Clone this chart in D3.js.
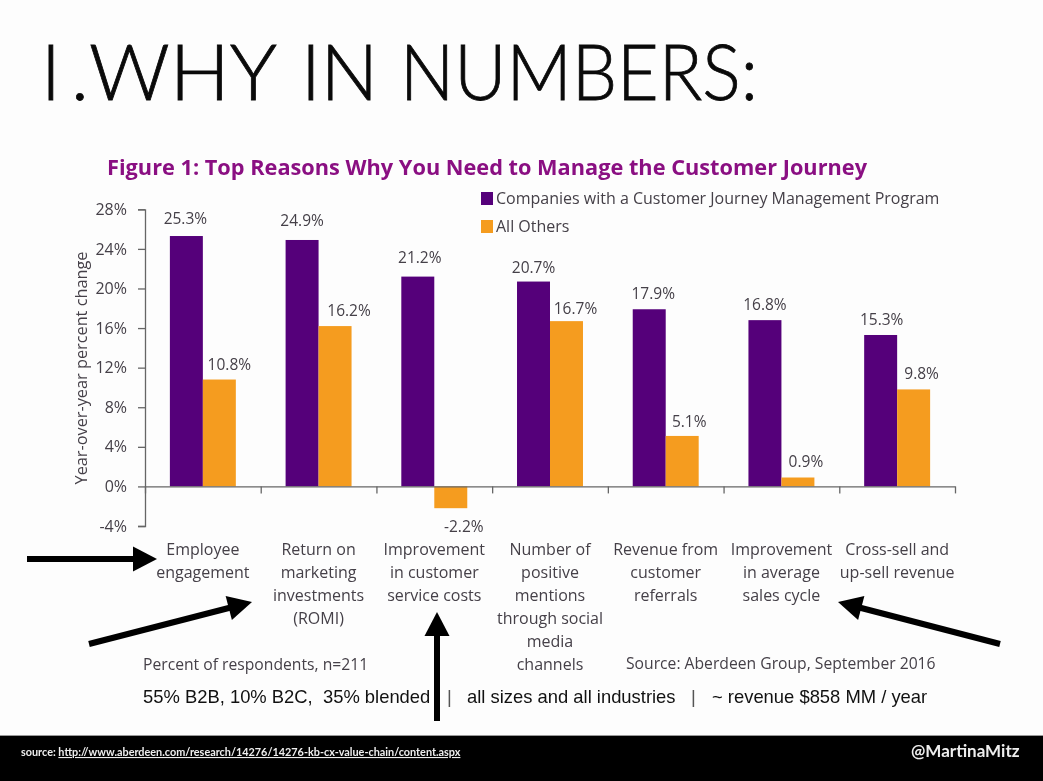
<!doctype html>
<html lang="en">
  <head>
    <meta charset="utf-8"/>
    <title>Why in numbers</title>
    <script src="https://d3js.org/d3.v7.min.js"></script>
    <style>
      html, body { margin: 0; padding: 0; background: #fff; overflow: hidden; }
      svg { display: block; filter: blur(0.35px); }
      .chart text { font-family: "Open Sans", sans-serif; fill: #454048; }
      .axis path, .axis line { stroke: #666; stroke-width: 1.3; }
    </style>
  </head>
  <body>
    <svg id="slide"></svg>
    <script>
      var categories = [
        ["Employee", "engagement"],
        ["Return on", "marketing", "investments", "(ROMI)"],
        ["Improvement", "in customer", "service costs"],
        ["Number of", "positive", "mentions", "through social", "media", "channels"],
        ["Revenue from", "customer", "referrals"],
        ["Improvement", "in average", "sales cycle"],
        ["Cross-sell and", "up-sell revenue"]
      ];
      var seriesNames = ["Companies with a Customer Journey Management Program", "All Others"];
      var seriesColors = ["#55007a", "#f59c1f"];
      var companies = [25.3, 24.9, 21.2, 20.7, 17.9, 16.8, 15.3];
      var allOthers = [10.8, 16.2, -2.2, 16.7, 5.1, 0.9, 9.8];
      var yTicks = [-4, 0, 4, 8, 12, 16, 20, 24, 28];
      // the value labels in the picture are placed by hand, not centred on their bars
      var companyLabelShift = [-1, 0, 2, 0, 4, 0, 1];
      var otherLabelShift = [10, 14, 13, 9, 7, 8, 8];
      var companyLabelLift = [12, 14, 14, 9, 10, 10, 10];
      var otherLabelLift = [10, 10, -23.5, 7, 9, 11, 10];

      var w = 1043, h = 781;
      var svg = d3.select("#slide").attr("width", w).attr("height", h);

      svg.append("rect").attr("width", w).attr("height", h).attr("fill", "#fdfdfd");

      // slide heading, set piece by piece because the spacing is so wide
      var headingParts = [
        { text: "I", x: 41 },
        { text: ".", x: 71 },
        { text: "WHY", x: 89, len: 188 },
        { text: "IN", x: 301, len: 77 },
        { text: "NUMBERS:", x: 400, len: 358 }
      ];
      svg.append("g").selectAll("text")
        .data(headingParts)
        .enter()
        .append("text")
        .attr("x", function(d) { return d.x; })
        .attr("y", 99.5)
        .attr("textLength", function(d) { return d.len || null; })
        .attr("lengthAdjust", "spacingAndGlyphs")
        .attr("font-family", "Lato").attr("font-weight", 300).attr("font-size", 76)
        .attr("fill", "#0a0a0a")
        .attr("stroke", "#0a0a0a").attr("stroke-width", 0.8)
        .text(function(d) { return d.text; });

      var chart = svg.append("g").attr("class", "chart");

      chart.append("text")
        .attr("x", 107).attr("y", 175)
        .attr("textLength", 760).attr("lengthAdjust", "spacingAndGlyphs")
        .attr("font-weight", 700).attr("font-size", 21)
        .style("fill", "#8a0f82")
        .text("Figure 1: Top Reasons Why You Need to Manage the Customer Journey");

      //Create scale functions
      var xScale = d3.scaleBand()
        .domain(d3.range(categories.length))
        .range([145, 955])
        .paddingInner(0.43)
        .paddingOuter(0.215);
      var subScale = d3.scaleBand()
        .domain([0, 1])
        .range([0, xScale.bandwidth()]);
      var yScale = d3.scaleLinear()
        .domain([-4, 28])
        .range([526, 209.3]);

      //Create bars
      [companies, allOthers].forEach(function(values, s) {
        chart.append("g").selectAll("rect")
          .data(values)
          .enter()
          .append("rect")
          .attr("x", function(d, i) { return xScale(i) + subScale(s); })
          .attr("y", function(d) { return yScale(Math.max(d, 0)); })
          .attr("width", subScale.bandwidth())
          .attr("height", function(d) { return Math.abs(yScale(d) - yScale(0)); })
          .attr("fill", seriesColors[s]);
      });

      //Value labels
      [[companies, companyLabelShift, companyLabelLift, 0], [allOthers, otherLabelShift, otherLabelLift, 1]].forEach(function(row) {
        chart.append("g").selectAll("text")
          .data(row[0])
          .enter()
          .append("text")
          .attr("x", function(d, i) { return xScale(i) + subScale(row[3]) + subScale.bandwidth() / 2 + row[1][i]; })
          .attr("y", function(d, i) { return yScale(d) - row[2][i]; })
          .attr("text-anchor", "middle")
          .attr("font-size", 15.5)
          .text(function(d) { return d.toFixed(1) + "%"; });
      });

      //Y axis
      var yAxis = d3.axisLeft(yScale)
        .tickValues(yTicks)
        .tickSize(7)
        .tickPadding(11)
        .tickFormat(function(d) { return d + "%"; });
      var yG = chart.append("g")
        .attr("class", "axis")
        .attr("transform", "translate(145,0)")
        .call(yAxis);
      yG.selectAll("text").attr("font-size", 16);

      //X axis with ticks on the category boundaries
      var xEdges = d3.range(categories.length + 1).map(function(i) { return 145 + i * xScale.step(); });
      var xEdge = d3.scaleLinear().domain([145, 955]).range([145, 955]);
      var xAxis = d3.axisBottom(xEdge)
        .tickValues(xEdges)
        .tickSize(7)
        .tickSizeOuter(0)
        .tickFormat("");
      chart.append("g")
        .attr("class", "axis")
        .attr("transform", "translate(0," + yScale(0) + ")")
        .call(xAxis);

      chart.append("text")
        .attr("transform", "translate(87,368) rotate(-90)")
        .attr("text-anchor", "middle")
        .attr("font-size", 16.3)
        .text("Year-over-year percent change");

      //Category labels
      chart.append("g").selectAll("text")
        .data(categories)
        .enter()
        .append("text")
        .attr("text-anchor", "middle")
        .attr("font-size", 16)
        .attr("y", 555)
        .each(function(lines, i) {
          d3.select(this).selectAll("tspan")
            .data(lines)
            .enter()
            .append("tspan")
            .attr("x", xScale(i) + xScale.bandwidth() / 2)
            .attr("dy", function(d, j) { return j ? 23 : 0; })
            .text(function(d) { return d; });
        });

      //Legend
      var legendY = [198, 226];
      seriesNames.forEach(function(name, s) {
        chart.append("rect")
          .attr("x", 481).attr("y", legendY[s] - 6)
          .attr("width", 12).attr("height", 13)
          .attr("fill", seriesColors[s]);
        chart.append("text")
          .attr("x", 496).attr("y", legendY[s] + 5.5)
          .attr("font-size", 16)
          .text(name);
      });

      chart.append("text").attr("x", 143).attr("y", 670).attr("font-size", 15.7).text("Percent of respondents, n=211");
      chart.append("text").attr("x", 626).attr("y", 669).attr("font-size", 15.7).text("Source: Aberdeen Group, September 2016");

      // black note line under the chart
      var note = svg.append("g")
        .attr("font-family", "Liberation Sans")
        .attr("font-size", 18.4)
        .attr("fill", "#111");
      note.append("text").attr("x", 143).attr("y", 703).attr("xml:space", "preserve").text("55% B2B, 10% B2C,  35% blended");
      note.append("text").attr("x", 447).attr("y", 703).attr("fill", "#555").text("|");
      note.append("text").attr("x", 467).attr("y", 703).text("all sizes and all industries");
      note.append("text").attr("x", 691).attr("y", 703).attr("fill", "#555").text("|");
      note.append("text").attr("x", 712).attr("y", 703).text("~ revenue $858 MM / year");

      // annotation arrows, tail -> tip
      var arrows = [
        [27, 559, 157, 559],
        [89, 644, 252, 602],
        [437, 721, 437, 612],
        [1000, 644, 838, 602]
      ];
      var arrowG = svg.append("g");
      arrows.forEach(function(a) {
        var angle = Math.atan2(a[3] - a[1], a[2] - a[0]);
        var len = Math.hypot(a[2] - a[0], a[3] - a[1]);
        var g = arrowG.append("g")
          .attr("transform", "translate(" + a[0] + "," + a[1] + ") rotate(" + angle * 180 / Math.PI + ")");
        g.append("rect")
          .attr("x", 0).attr("y", -3)
          .attr("width", len - 20).attr("height", 6)
          .attr("fill", "#000");
        g.append("path")
          .attr("d", d3.line()([[len, 0], [len - 24, -12.5], [len - 24, 12.5]]))
          .attr("fill", "#000");
      });

      // bottom band
      svg.append("rect").attr("x", 0).attr("y", 735).attr("width", w).attr("height", 2).attr("fill", "#999");
      svg.append("rect").attr("x", 0).attr("y", 736).attr("width", w).attr("height", 45).attr("fill", "#000");
      var src = svg.append("text")
        .attr("x", 21).attr("y", 756)
        .attr("font-family", "Lato").attr("font-weight", 700).attr("font-size", 10.85)
        .attr("fill", "#eee");
      src.append("tspan").text("source: ");
      src.append("tspan").attr("text-decoration", "underline").text("http://www.aberdeen.com/research/14276/14276-kb-cx-value-chain/content.aspx");
      svg.append("text")
        .attr("x", 911).attr("y", 757)
        .attr("font-family", "Lato").attr("font-weight", 700).attr("font-size", 17)
        .attr("fill", "#eee")
        .text("@MartinaMitz");
    </script>
  </body>
</html>
